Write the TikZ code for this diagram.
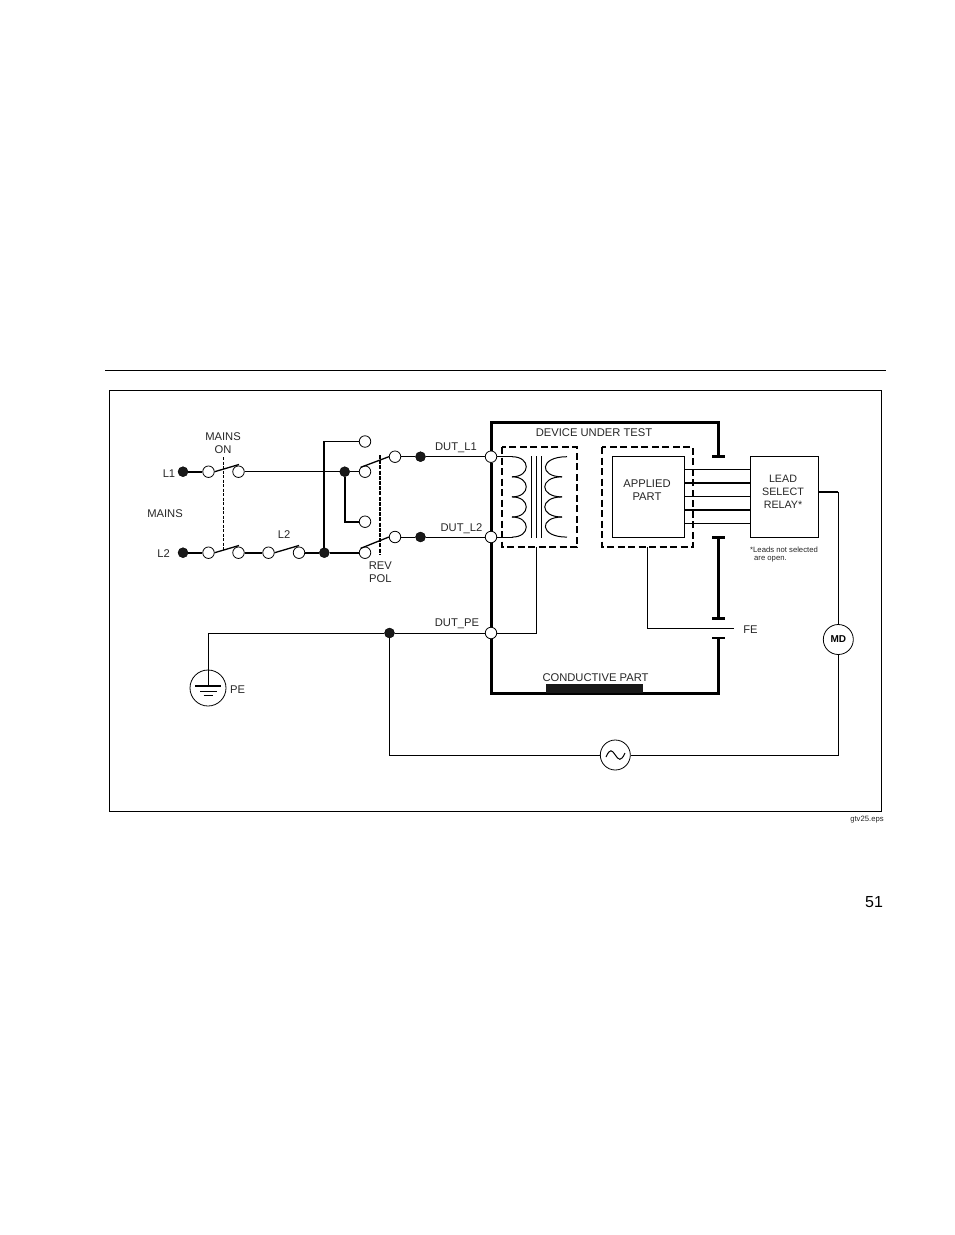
\documentclass[tikz,border=0pt]{standalone}
\usepackage{fontspec}
\setmainfont{Liberation Sans}
\tikzset{
	openpt/.style={circle,draw,fill=white,line width=0.8pt,inner sep=0pt,minimum size=11.5pt},
	solidpt/.style={circle,draw,fill=black!90,inner sep=0pt,minimum size=10pt},
	lbl/.style={font=\fontsize{11.2}{13}\selectfont,align=center,inner sep=0pt,text=black!85,yshift=-0.7pt},
	smalltxt/.style={lbl,font=\fontsize{7.7}{9}\selectfont},
	wire/.style={line width=0.9pt},
	mainwire/.style={line width=1.7pt},
	bladeline/.style={line width=1.3pt},
	devline/.style={line width=3pt},
	capbar/.style={line width=2.6pt},
	boxdash/.style={line width=1.3pt,dash pattern=on 7pt off 3.5pt},
	srcring/.style={circle,draw,fill=white,line width=0.8pt,inner sep=0pt}
}
\begin{document}
\begin{tikzpicture}[x=1pt,y=-1pt,line cap=butt]
	\useasboundingbox (0,0) rectangle (954,1235);
	% Page rule and frame
	\coordinate (ruleL) at (105,370.5);
	\coordinate (ruleR) at (886,370.5);
	\draw [line width=1pt] (ruleL) -- (ruleR);
	\coordinate (frameA) at (109.5,390.5);
	\coordinate (frameB) at (881.5,811.5);
	\draw [line width=0.8pt] (frameA) rectangle (frameB);
	% Terminals on the mains side
	\node [solidpt] (srcA) at (183,471.7) {};
	\node [solidpt] (srcB) at (183,552.7) {};
	\node [openpt] (onA) at (208.5,471.7) {};
	\node [openpt] (onB) at (238.5,471.7) {};
	\node [openpt] (onC) at (208.5,552.7) {};
	\node [openpt] (onD) at (238.5,552.7) {};
	\node [openpt] (twoA) at (268.5,552.7) {};
	\node [openpt] (twoB) at (299,552.7) {};
	\node [solidpt] (jctB) at (324.3,552.7) {};
	\node [solidpt] (jctA) at (344.7,471.7) {};
	\node [openpt] (revA) at (365,441.5) {};
	\node [openpt] (revB) at (365,471.7) {};
	\node [openpt] (revC) at (365,521.7) {};
	\node [openpt] (revD) at (365,552.7) {};
	\node [openpt] (outA) at (395,456.7) {};
	\node [openpt] (outB) at (395,537) {};
	\node [solidpt] (dotA) at (420.5,456.7) {};
	\node [solidpt] (dotB) at (420.5,537) {};
	% Device outline
	\node [openpt] (dutA) at (491,456.7) {};
	\node [openpt] (dutB) at (491,537) {};
	\node [openpt] (dutC) at (491,633) {};
	\coordinate (devTL) at (491,422);
	\coordinate (devTR) at (718.5,422);
	\coordinate (devBL) at (491,693);
	\coordinate (devBR) at (718.5,693);
	\coordinate (capA) at (718.5,456.5);
	\coordinate (capB) at (718.5,537.5);
	\coordinate (capC) at (718.5,618.5);
	\coordinate (capD) at (718.5,638);
	\draw [devline] (capA) -- (devTR) -- (devTL) -- (dutA);
	\draw [devline] (dutA) -- (dutB);
	\draw [devline] (dutB) -- (dutC);
	\draw [devline] (dutC) -- (devBL) -- (devBR) -- (capD);
	\draw [capbar] (capB) -- (capC);
	\foreach \p in {capA,capB,capC,capD}
		\draw [capbar] ([xshift=-6.5pt]\p) -- ([xshift=6.5pt]\p);
	\fill [black!90] (546,684) rectangle (643,693);
	% Mains wiring
	\draw [mainwire] (srcA) -- (onA);
	\draw [mainwire] (srcB) -- (onC);
	\draw [mainwire] (onD) -- (twoA);
	\draw [mainwire] (twoB) -- (jctB);
	\draw [mainwire] (jctB) -- (revD);
	\draw [bladeline] (onB) -- (jctA);
	\draw [bladeline] (jctA) -- (revB);
	\draw [mainwire] (jctA) |- (revC);
	\draw [mainwire] (jctB) |- (revA);
	\draw [wire] (outA) -- (dotA);
	\draw [wire] (outB) -- (dotB);
	\draw [wire] (dotA) -- (dutA);
	\draw [wire] (dotB) -- (dutB);
	% Switch blades
	\draw [bladeline] (onA.east) -- (239,464.5);
	\draw [bladeline] (onC.east) -- (239,545.5);
	\draw [bladeline] (twoA.east) -- (299,545.5);
	\draw [bladeline] (revB.north west) -- (outA.west);
	\draw [bladeline] (revD.north west) -- (outB.west);
	\draw [line width=0.8pt,dash pattern=on 3pt off 1.5pt] (223.5,457) -- (223.5,550);
	\draw [line width=1.6pt,dash pattern=on 4pt off 1.2pt] (380,455) -- (380,555);
	% Transformer
	\draw [boxdash] (502,447) rectangle (577,547);
	\draw [wire] (dutA) -- (513,456.7);
	\draw [wire] (dutB) -- (513,537);
	\foreach \y in {456.7,476.8,496.9,517}
		\draw [line width=1pt] (512,\y) .. controls (531,\y) and (531,\y+20.1) .. (512,\y+20.1);
	\foreach \y/\a/\b in {456.7/567/562,476.8/562/562,496.9/562/562,517/562/567}
		\draw [line width=1pt] (\a,\y) .. controls (539,\y) and (539,\y+20.1) .. (\b,\y+20.1);
	\foreach \x in {531.7,536.7,541.7}
		\draw [wire] (\x,456) -- (\x,538);
	% Applied part and relay
	\draw [boxdash] (602,447) rectangle (693,547);
	\node [draw,line width=0.9pt,fill=white,minimum width=72pt,minimum height=81pt,inner sep=0pt] (applied) at (648,497) {};
	\node [draw,line width=0.9pt,minimum width=68.5pt,minimum height=81pt,inner sep=0pt] (relay) at (784.2,497) {};
	\node [lbl] at (647,489.5) {APPLIED\\PART};
	\node [lbl,font=\fontsize{10.7}{13}\selectfont] at (783,491) {LEAD\\SELECT\\RELAY*};
	\foreach \y in {469,496,523}
		\draw [wire] (684,\y) -- (750,\y);
	\foreach \y in {482.7,510}
		\draw [mainwire] (684,\y) -- (750,\y);
	% Earth, source and MD
	\node [srcring,minimum size=36pt] (earth) at (208,688) {};
	\node [srcring,minimum size=30pt] (md) at (838.3,639.5) {\fontsize{10}{11}\selectfont\bfseries MD};
	\node [srcring,minimum size=30pt] (source) at (615.3,755) {};
	\node [solidpt] (jctPE) at (389.5,633) {};
	\coordinate (feEnd) at (734,628.5);
	\coordinate (coilTap) at (536.5,547);
	\coordinate (partTap) at (647,547);
	\coordinate (earthTop) at (208,686);
	\coordinate (relayTap) at (818.5,491.7);
	\coordinate (relayOut) at (838.3,491.7);
	\draw [wire] (dutC) -| (coilTap);
	\draw [wire] (partTap) |- (feEnd);
	\draw [wire] (jctPE) -- (dutC);
	\draw [wire] (jctPE) -| (earthTop);
	\draw [wire] (jctPE) |- (source);
	\draw [wire] (source) -| (md);
	\draw [mainwire] (relayTap) -- (relayOut);
	\draw [wire] (relayOut) -- (md);
	\draw [line width=1.8pt] (195,686) -- (221,686);
	\draw [line width=0.8pt] (200,691.5) -- (217,691.5);
	\draw [line width=0.8pt] (203.5,695) -- (213,695);
	\draw [line width=1pt] (606,757) .. controls (610,748) and (612,750) .. (615.3,755) .. controls (618.5,760) and (621,762) .. (625,753);
	% Labels
	\node [lbl] at (223,442) {MAINS\\ON};
	\node [lbl] at (169,473) {L1};
	\node [lbl] at (165,513) {MAINS};
	\node [lbl] at (163.5,553) {L2};
	\node [lbl] at (284,533.5) {L2};
	\node [lbl] at (380.3,571.5) {REV\\POL};
	\node [lbl] at (456,447) {DUT\_L1};
	\node [lbl] at (461.5,528) {DUT\_L2};
	\node [lbl] at (457,623) {DUT\_PE};
	\node [lbl] at (594,431.7) {DEVICE UNDER TEST};
	\node [lbl] at (595.5,677) {CONDUCTIVE PART};
	\node [lbl] at (237.5,689) {PE};
	\node [lbl] at (750.5,629) {FE};
	\node [smalltxt,anchor=west] at (750,549) {*Leads not selected};
	\node [smalltxt,anchor=west] at (754,558.7) {are open.};
	\node [smalltxt] at (867,819) {gtv25.eps};
	\node [lbl,font=\fontsize{16}{18}\selectfont,text=black] at (874,901) {51};
\end{tikzpicture}
\end{document}
